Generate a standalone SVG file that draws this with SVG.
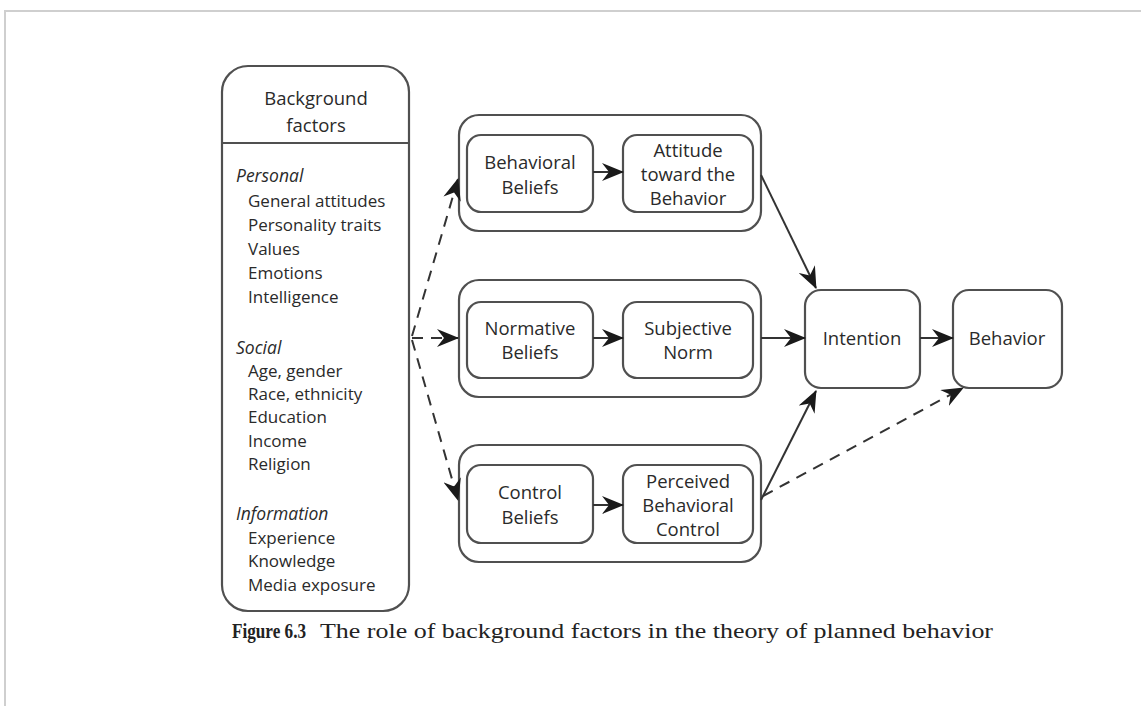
<svg xmlns="http://www.w3.org/2000/svg" width="1141" height="706" viewBox="0 0 1141 706">
  <style>
    .box { fill: #ffffff; stroke: #505050; stroke-width: 2.2; }
    .lbl { font-family: "Open Sans", "Noto Sans", sans-serif; font-size: 18.5px; fill: #2a2a2a; text-anchor: middle; }
    .item { font-family: "Open Sans", "Noto Sans", sans-serif; font-size: 17px; fill: #2a2a2a; }
    .head { font-family: "Open Sans", "Noto Sans", sans-serif; font-size: 17.5px; fill: #2a2a2a; font-style: italic; }
    .edge { fill: none; stroke: #333333; stroke-width: 2; marker-end: url(#arrow); }
    .dash { stroke-dasharray: 11 8; }
    .cap { font-family: "Liberation Serif", serif; font-size: 21px; fill: #222222; }
  </style>
  <defs>
    <marker id="arrow" viewBox="0 0 22 18" refX="21" refY="9" markerWidth="22" markerHeight="18" markerUnits="userSpaceOnUse" orient="auto">
      <path d="M0,0 L22,9 L0,18 L7,9 z" fill="#1a1a1a"/>
    </marker>
  </defs>

  <rect width="1141" height="706" fill="#ffffff"/>
  <!-- page frame -->
  <path d="M5,706 L5,11 L1141,11" fill="none" stroke="#cfcfcf" stroke-width="2"/>

  <!-- background factors -->
  <g id="background">
    <rect class="box" x="222" y="66" width="187" height="545" rx="26"/>
    <line x1="222" y1="143" x2="409" y2="143" stroke="#505050" stroke-width="2.2"/>
    <text class="lbl" x="316" y="105" font-size="20">Background</text>
    <text class="lbl" x="316" y="132" font-size="20">factors</text>
    <text class="head" x="236" y="182">Personal</text>
    <text class="item" x="248" y="207">General attitudes</text>
    <text class="item" x="248" y="231">Personality traits</text>
    <text class="item" x="248" y="255">Values</text>
    <text class="item" x="248" y="279">Emotions</text>
    <text class="item" x="248" y="303">Intelligence</text>
    <text class="head" x="236" y="354">Social</text>
    <text class="item" x="248" y="377">Age, gender</text>
    <text class="item" x="248" y="400">Race, ethnicity</text>
    <text class="item" x="248" y="423">Education</text>
    <text class="item" x="248" y="447">Income</text>
    <text class="item" x="248" y="470">Religion</text>
    <text class="head" x="236" y="520">Information</text>
    <text class="item" x="248" y="544">Experience</text>
    <text class="item" x="248" y="567">Knowledge</text>
    <text class="item" x="248" y="591">Media exposure</text>
  </g>

  <!-- attitude group -->
  <g id="attitude-group">
    <rect class="box" x="459" y="115" width="302" height="116" rx="20"/>
  </g>
  <g id="behavioral-beliefs">
    <rect class="box" x="467" y="135" width="126" height="77" rx="14"/>
    <text class="lbl" x="530" y="169">Behavioral</text>
    <text class="lbl" x="530" y="194">Beliefs</text>
  </g>
  <g id="attitude">
    <rect class="box" x="623" y="135" width="130" height="77" rx="14"/>
    <text class="lbl" x="688" y="157">Attitude</text>
    <text class="lbl" x="688" y="181">toward the</text>
    <text class="lbl" x="688" y="205">Behavior</text>
  </g>

  <!-- norm group -->
  <g id="norm-group">
    <rect class="box" x="459" y="280" width="302" height="117" rx="20"/>
  </g>
  <g id="normative-beliefs">
    <rect class="box" x="467" y="302" width="126" height="76" rx="14"/>
    <text class="lbl" x="530" y="335">Normative</text>
    <text class="lbl" x="530" y="359">Beliefs</text>
  </g>
  <g id="subjective-norm">
    <rect class="box" x="623" y="302" width="130" height="76" rx="14"/>
    <text class="lbl" x="688" y="335">Subjective</text>
    <text class="lbl" x="688" y="359">Norm</text>
  </g>

  <!-- control group -->
  <g id="control-group">
    <rect class="box" x="459" y="445" width="302" height="117" rx="20"/>
  </g>
  <g id="control-beliefs">
    <rect class="box" x="467" y="465" width="126" height="78" rx="14"/>
    <text class="lbl" x="530" y="499">Control</text>
    <text class="lbl" x="530" y="524">Beliefs</text>
  </g>
  <g id="perceived-control">
    <rect class="box" x="623" y="465" width="130" height="78" rx="14"/>
    <text class="lbl" x="688" y="488">Perceived</text>
    <text class="lbl" x="688" y="512">Behavioral</text>
    <text class="lbl" x="688" y="536">Control</text>
  </g>

  <g id="intention">
    <rect class="box" x="805" y="290" width="115" height="98" rx="16"/>
    <text class="lbl" x="862" y="345" font-size="19">Intention</text>
  </g>
  <g id="behavior">
    <rect class="box" x="953" y="290" width="109" height="98" rx="16"/>
    <text class="lbl" x="1007" y="345" font-size="19">Behavior</text>
  </g>

  <!-- connectors -->
  <g id="connectors">
    <line class="edge dash" x1="412" y1="336" x2="458" y2="179"/>
    <line class="edge dash" x1="412" y1="338" x2="458" y2="338"/>
    <line class="edge dash" x1="412" y1="340" x2="458" y2="500"/>
    <line class="edge" x1="593" y1="172" x2="623" y2="172"/>
    <line class="edge" x1="593" y1="338" x2="623" y2="338"/>
    <line class="edge" x1="593" y1="505" x2="623" y2="505"/>
    <line class="edge" x1="761" y1="175" x2="816" y2="288"/>
    <line class="edge" x1="761" y1="338" x2="805" y2="338"/>
    <line class="edge" x1="761" y1="500" x2="816" y2="391"/>
    <line class="edge" x1="920" y1="338" x2="953" y2="338"/>
    <line class="edge dash" x1="763" y1="496" x2="963" y2="388"/>
  </g>

  <!-- caption -->
  <text class="cap" y="638"><tspan x="232" font-weight="bold" textLength="74" lengthAdjust="spacingAndGlyphs">Figure 6.3</tspan><tspan x="320" textLength="673" lengthAdjust="spacingAndGlyphs">The role of background factors in the theory of planned behavior</tspan></text>
</svg>
